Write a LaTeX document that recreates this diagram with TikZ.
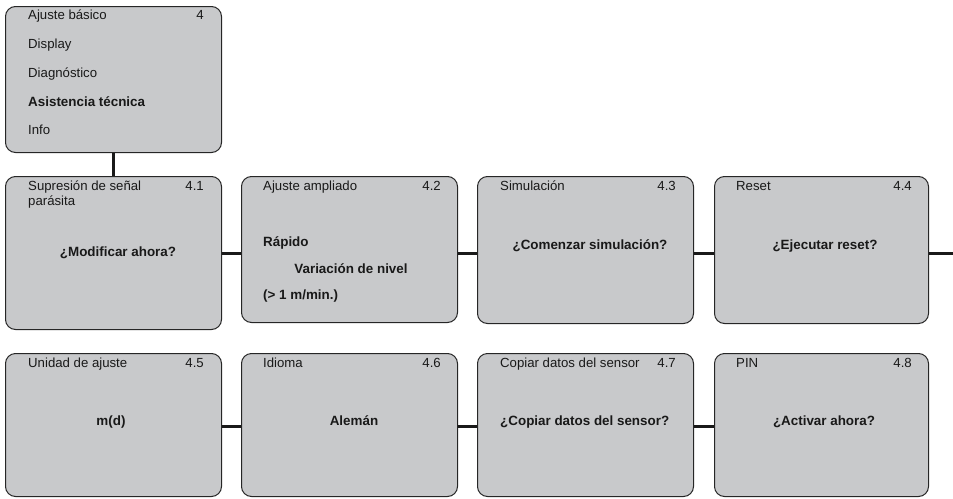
\documentclass[tikz,border=0pt]{standalone}
\usepackage{fontspec}
\setmainfont{Liberation Sans}
\begin{document}
\begin{tikzpicture}[x=1pt,y=-1pt,
  panel/.style={draw=black!85, line width=1pt, fill=panelgray, rounded corners=10pt, inner sep=0pt, anchor=north west},
  conn/.style={draw=black!90, line width=3pt},
  lbl/.style={inner sep=0pt, font=\fontsize{13.2}{15}\selectfont, text=black!90},
  bl/.style={lbl, font=\fontsize{13.4}{15}\selectfont\bfseries}]
\definecolor{panelgray}{HTML}{C8C9CB}
\useasboundingbox (0,0) rectangle (953,498);
% panels
\node[panel, minimum width=216pt, minimum height=146pt] (top) at (5,6) {};
\node[panel, minimum width=216pt, minimum height=153pt] (b41) at (5,176) {};
\node[panel, minimum width=216pt, minimum height=146pt] (b42) at (241,176) {};
\node[panel, minimum width=216pt, minimum height=147pt] (b43) at (477,176) {};
\node[panel, minimum width=214pt, minimum height=147pt] (b44) at (714,176) {};
\node[panel, minimum width=216pt, minimum height=143pt] (b45) at (5,353) {};
\node[panel, minimum width=216pt, minimum height=143pt] (b46) at (241,353) {};
\node[panel, minimum width=216pt, minimum height=143pt] (b47) at (477,353) {};
\node[panel, minimum width=214pt, minimum height=143pt] (b48) at (714,353) {};
% connectors
\coordinate (r1) at (0,253);
\coordinate (r2) at (0,426);
\coordinate (end1) at (953,253);
\draw[conn] (top.south) -- (b41.north);
\draw[conn] (b41.east |- r1) -- (b42.west |- r1);
\draw[conn] (b42.east |- r1) -- (b43.west |- r1);
\draw[conn] (b43.east |- r1) -- (b44.west |- r1);
\draw[conn] (b44.east |- r1) -- (end1);
\draw[conn] (b45.east |- r2) -- (b46.west |- r2);
\draw[conn] (b46.east |- r2) -- (b47.west |- r2);
\draw[conn] (b47.east |- r2) -- (b48.west |- r2);
% top panel texts
\node[lbl, anchor=base west] (t1) at (28,19.5) {Ajuste básico};
\node[lbl, anchor=base east] (t1n) at (204,19.5) {4};
\node[lbl, anchor=base west] (t2) at (28,48) {Display};
\node[lbl, anchor=base west] (t3) at (28,77) {Diagnóstico};
\node[bl, anchor=base west] (t4) at (28,106) {Asistencia técnica};
\node[lbl, anchor=base west] (t5) at (28,134.5) {Info};
% row 1 texts
\node[lbl, anchor=base west] (h41) at (28,190) {Supresión de señal};
\node[lbl, anchor=base west] (h41b) at (28,205) {parásita};
\node[lbl, anchor=base east] (n41) at (204,190) {4.1};
\node[bl, anchor=base] (m41) at (118,256) {¿Modificar ahora?};
\node[lbl, anchor=base west] (h42) at (263,190) {Ajuste ampliado};
\node[lbl, anchor=base east] (n42) at (441,190) {4.2};
\node[bl, anchor=base west] (m42a) at (263,246) {Rápido};
\node[bl, anchor=base] (m42b) at (351,273) {Variación de nivel};
\node[bl, anchor=base west] (m42c) at (263,299) {(> 1 m/min.)};
\node[lbl, anchor=base west] (h43) at (500,190) {Simulación};
\node[lbl, anchor=base east] (n43) at (676,190) {4.3};
\node[bl, anchor=base] (m43) at (590,249) {¿Comenzar simulación?};
\node[lbl, anchor=base west] (h44) at (736,190) {Reset};
\node[lbl, anchor=base east] (n44) at (912,190) {4.4};
\node[bl, anchor=base] (m44) at (825,249) {¿Ejecutar reset?};
% row 2 texts
\node[lbl, anchor=base west] (h45) at (28,367) {Unidad de ajuste};
\node[lbl, anchor=base east] (n45) at (204,367) {4.5};
\node[bl, anchor=base] (m45) at (111,425) {m(d)};
\node[lbl, anchor=base west] (h46) at (263,367) {Idioma};
\node[lbl, anchor=base east] (n46) at (441,367) {4.6};
\node[bl, anchor=base] (m46) at (354,425) {Alemán};
\node[lbl, anchor=base west] (h47) at (500,367) {Copiar datos del sensor};
\node[lbl, anchor=base east] (n47) at (676,367) {4.7};
\node[bl, anchor=base west] (m47) at (500,425) {¿Copiar datos del sensor?};
\node[lbl, anchor=base west] (h48) at (736,367) {PIN};
\node[lbl, anchor=base east] (n48) at (912,367) {4.8};
\node[bl, anchor=base] (m48) at (824,425) {¿Activar ahora?};
\end{tikzpicture}
\end{document}
